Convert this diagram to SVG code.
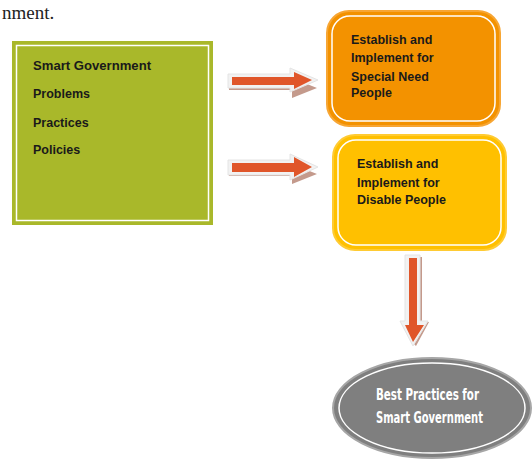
<svg xmlns="http://www.w3.org/2000/svg" width="532" height="459" viewBox="0 0 532 459">
<style>
.lbl{font-family:"Liberation Sans",Arial,sans-serif;font-weight:bold;font-size:12.5px;fill:#1a1a1a}
.ell{font-family:"DejaVu Sans Condensed","DejaVu Sans",sans-serif;font-weight:bold;font-size:15px;fill:#ffffff}
.arrow{fill:#E0562A}
.aout{fill:#F2F2F2;stroke:#E4E4E4;stroke-width:1}
.ash{fill:#C49A8C}
</style>
<rect width="532" height="459" fill="#ffffff"/>
<text x="2" y="19" font-family="Liberation Serif,serif" font-size="19" fill="#222">nment.</text>
<g id="n-smart">
<rect x="12" y="41" width="201" height="184" fill="#A9B82A"/>
<rect x="16.5" y="45.5" width="192" height="175" fill="none" stroke="#ffffff" stroke-width="1.5"/>
<text class="lbl" x="33" y="70" textLength="118" lengthAdjust="spacingAndGlyphs">Smart Government</text>
<text class="lbl" x="33" y="98">Problems</text>
<text class="lbl" x="33" y="127">Practices</text>
<text class="lbl" x="33" y="154">Policies</text>
</g>
<g id="n-special">
<rect x="327" y="11" width="173" height="115" rx="22" fill="#F39200" stroke="#F7A634" stroke-width="2"/>
<rect x="332" y="16" width="163" height="105" rx="18" fill="none" stroke="#ffffff" stroke-width="1.5"/>
<text class="lbl" x="351" y="44">Establish and</text>
<text class="lbl" x="351" y="62">Implement for</text>
<text class="lbl" x="351" y="81">Special Need</text>
<text class="lbl" x="351" y="97">People</text>
</g>
<g id="n-disable">
<rect x="333" y="135" width="173" height="115" rx="22" fill="#FFC000" stroke="#FFCB33" stroke-width="2"/>
<rect x="338" y="140" width="163" height="105" rx="18" fill="none" stroke="#ffffff" stroke-width="1.5"/>
<text class="lbl" x="357" y="168">Establish and</text>
<text class="lbl" x="357" y="187">Implement for</text>
<text class="lbl" x="357" y="204">Disable People</text>
</g>
<g id="n-best">
<ellipse cx="432" cy="408" rx="99" ry="50" fill="#7F7F7F" stroke="#A6A6A6" stroke-width="2"/>
<ellipse cx="432" cy="408" rx="93" ry="45" fill="none" stroke="#ffffff" stroke-width="1.5"/>
<text class="ell" x="376" y="400" textLength="103" lengthAdjust="spacingAndGlyphs">Best Practices for</text>
<text class="ell" x="376" y="423" textLength="107" lengthAdjust="spacingAndGlyphs">Smart Government</text>
</g>
<g id="connectors">
<g id="c1">
<polygon class="ash" points="229,84 292,84 292,78 317,88 292,98 292,90 229,90"/>
<polygon class="aout" points="228,74 290,74 290,68 318,80 290,92 290,88 228,88"/>
<polygon class="arrow" points="232,77 294,77 294,72 312,80 294,89 294,85 232,85"/>
</g>
<g id="c2">
<polygon class="ash" points="229,170 292,170 292,164 317,174 292,184 292,176 229,176"/>
<polygon class="aout" points="228,160 290,160 290,154 318,167 290,180 290,175 228,175"/>
<polygon class="arrow" points="232,163 294,163 294,157 312,167 294,177 294,172 232,172"/>
</g>
<g id="c3">
<polygon class="ash" points="416,257 422,257 422,322 429,322 416,346 410,340"/>
<polygon class="aout" points="405,255 420,255 420,321 428,321 413,346 400,321 405,321"/>
<polygon class="arrow" points="409,258 417,258 417,325 424,325 413,342 405,325 409,325"/>
</g>
</g>
</svg>
